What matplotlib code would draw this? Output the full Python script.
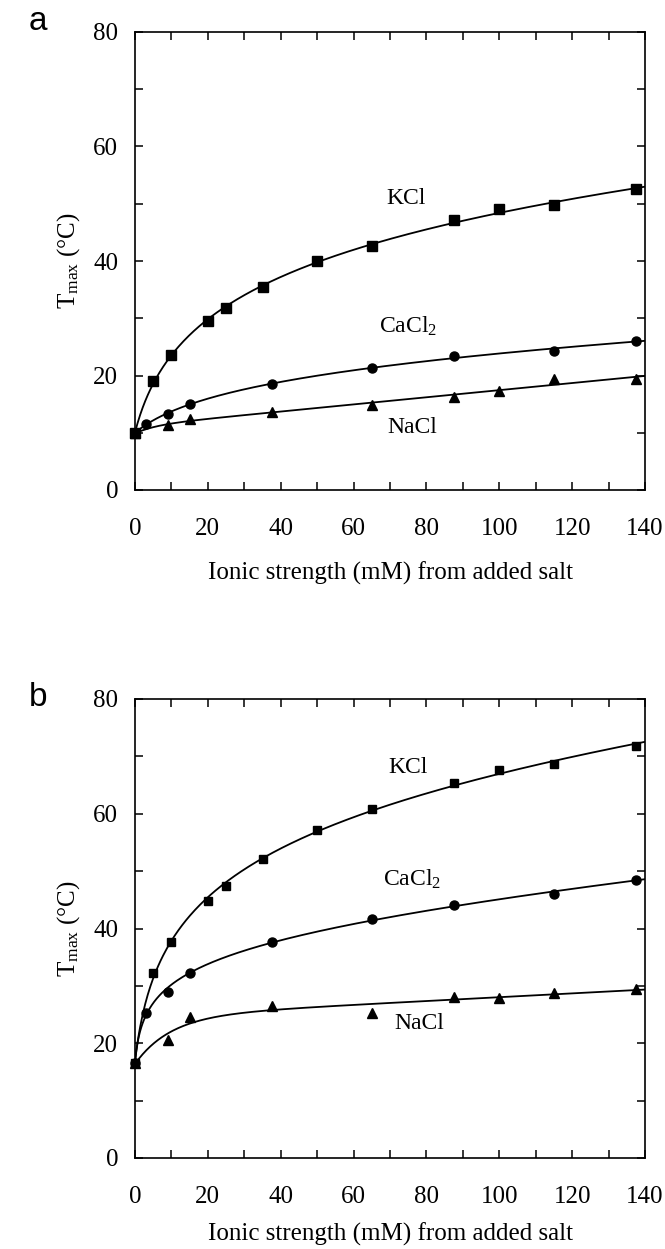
import numpy as np
import matplotlib
matplotlib.use('Agg')
import matplotlib.pyplot as plt
from matplotlib.ticker import MultipleLocator

plt.rcParams['font.family'] = 'Liberation Serif'
plt.rcParams['mathtext.fontset'] = 'custom'
plt.rcParams['mathtext.rm'] = 'Liberation Serif'
plt.rcParams['mathtext.it'] = 'Liberation Serif:italic'

# panel a data (ionic strength mM, Tmax in C)
kcl_x_a = [0, 5, 10, 20, 25, 35, 50, 65, 87.5, 100, 115, 137.5]
kcl_y_a = [9.9, 19.1, 23.5, 29.6, 31.8, 35.5, 40.0, 42.7, 47.2, 49.0, 49.8, 52.5]
cacl_x_a = [0, 3, 9, 15, 37.5, 65, 87.5, 115, 137.5]
cacl_y_a = [9.9, 11.6, 13.3, 15.0, 18.5, 21.3, 23.4, 24.3, 26.1]
nacl_x_a = [0, 9, 15, 37.5, 65, 87.5, 100, 115, 137.5]
nacl_y_a = [9.9, 11.3, 12.4, 13.7, 14.8, 16.3, 17.3, 19.4, 19.4]

# panel b data
kcl_x_b = [0, 5, 10, 20, 25, 35, 50, 65, 87.5, 100, 115, 137.5]
kcl_y_b = [16.6, 32.2, 37.7, 44.8, 47.4, 52.1, 57.2, 60.9, 65.4, 67.6, 68.7, 71.8]
cacl_x_b = [0, 3, 9, 15, 37.5, 65, 87.5, 115, 137.5]
cacl_y_b = [16.6, 25.3, 29.0, 32.3, 37.6, 41.7, 44.1, 46.0, 48.5]
nacl_x_b = [0, 9, 15, 37.5, 65, 87.5, 100, 115, 137.5]
nacl_y_b = [16.6, 20.6, 24.5, 26.5, 25.3, 28.1, 27.9, 28.7, 29.4]


def fit_curve(x, y, xs, kinds=('log', 'exp')):
    # least-squares fit of a saturating + linear model
    x = np.asarray(x, float)
    y = np.asarray(y, float)
    best = None
    for kind in kinds:
        for c in np.linspace(0.5, 60, 400):
            if kind == 'log':
                f = lambda t: np.log1p(t / c)
            else:
                f = lambda t: 1 - np.exp(-t / c)
            A = np.column_stack([np.ones_like(x), f(x), x])
            coef, *_ = np.linalg.lstsq(A, y, rcond=None)
            sse = np.sum((A @ coef - y) ** 2)
            if best is None or sse < best[0]:
                best = (sse, kind, c, coef)
    _, kind, c, coef = best
    if kind == 'log':
        g = np.log1p(xs / c)
    else:
        g = 1 - np.exp(-xs / c)
    return coef[0] + coef[1] * g + coef[2] * xs


def draw_panel(ax, series, labels, msq, xpad):
    xs = np.linspace(0, 140, 400)
    markers = ['s', 'o', '^']
    for (x, y, kinds), m in zip(series, markers):
        ax.plot(xs, fit_curve(x, y, xs, kinds), color='black', lw=1.3, clip_on=True)
        ms = msq if m == 's' else 6.5
        ax.plot(x, y, linestyle='none', marker=m, color='black', ms=ms, clip_on=False, zorder=3)
    for txt, (tx, ty) in labels:
        ax.text(tx, ty, txt, fontsize=17, ha='center', va='center')
    ax.set_xlim(0, 140)
    ax.set_ylim(0, 80)
    ax.xaxis.set_major_locator(MultipleLocator(20))
    ax.xaxis.set_minor_locator(MultipleLocator(10))
    ax.yaxis.set_major_locator(MultipleLocator(20))
    ax.yaxis.set_minor_locator(MultipleLocator(10))
    ax.tick_params(which='both', direction='in', top=True, right=True, length=6, width=1.1)
    ax.tick_params(axis='x', which='major', pad=20, labelsize=18)
    ax.tick_params(axis='y', which='major', pad=12, labelsize=18)
    for s in ax.spines.values():
        s.set_linewidth(1.2)
    ax.set_xlabel('Ionic strength (mM) from added salt', fontsize=18, labelpad=xpad)
    ax.set_ylabel('T$_{\\rm max}$ (°C)', fontsize=18, labelpad=8)


W, H = 665, 1249
fig = plt.figure(figsize=(W / 100, H / 100), dpi=100)
ax_a = fig.add_axes([135 / W, 1 - 490 / H, 510 / W, 458 / H])
ax_b = fig.add_axes([135 / W, 1 - 1158 / H, 510 / W, 459 / H])

both = ('log', 'exp')
draw_panel(ax_a,
           [(kcl_x_a, kcl_y_a, both), (cacl_x_a, cacl_y_a, both), (nacl_x_a, nacl_y_a, both)],
           [('KCl', (74.5, 51)), ('CaCl$_2$', (75, 28.5)), ('NaCl', (76, 11))],
           6.5, 16)
draw_panel(ax_b,
           [(kcl_x_b, kcl_y_b, both), (cacl_x_b, cacl_y_b, both), (nacl_x_b, nacl_y_b, ('exp',))],
           [('KCl', (75, 68)), ('CaCl$_2$', (76, 48.5)), ('NaCl', (78, 23.4))],
           5.5, 11)

fig.text(38 / W, 1 - 22 / H, 'a', fontsize=24, family='Liberation Sans', ha='center', va='center')
fig.text(38 / W, 1 - 697 / H, 'b', fontsize=24, family='Liberation Sans', ha='center', va='center')

fig.savefig('out.png', dpi=100)
